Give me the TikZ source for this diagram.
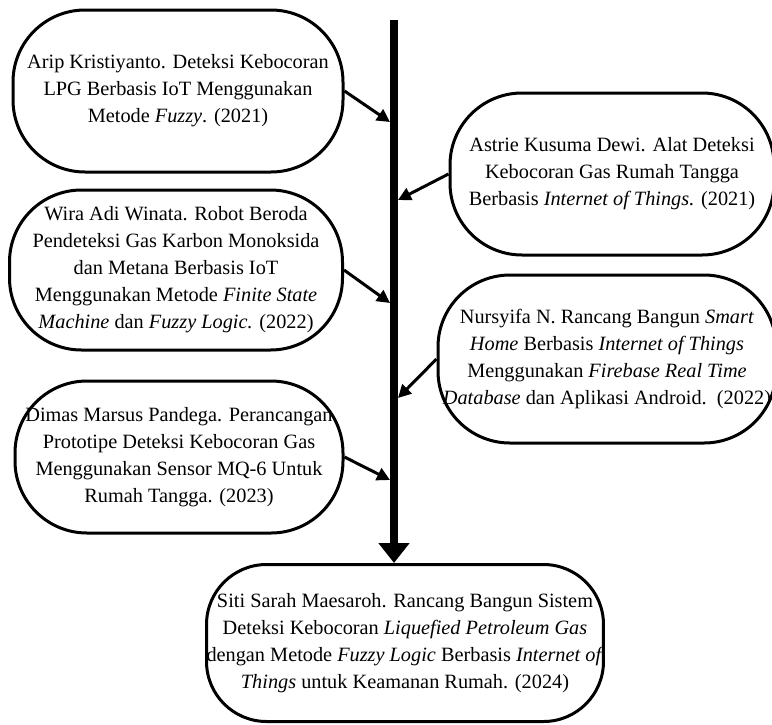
\documentclass[tikz,border=0pt]{standalone}
\usepackage{fontspec}
\setmainfont{Liberation Serif}
\usetikzlibrary{arrows.meta,positioning,calc}

\begin{document}
\begin{tikzpicture}[
    x=0.5pt, y=-0.5pt,
    box/.style={draw, line width=1.5pt, rounded corners=36pt, inner sep=0pt, align=center, font=\fontsize{10.15pt}{13.5pt}\selectfont},
    arrow/.style={-{Triangle[length=6.5pt,width=6.5pt]}, line width=1.5pt},
    spine/.style={-{Triangle[length=10pt,width=15pt]}, line width=4pt}
]
    \useasboundingbox (0,0) rectangle (772,724);

    % Left column (top)
    \node[box, minimum width=165pt, minimum height=81pt] (arip) at (178,91) {Arip Kristiyanto. Deteksi Kebocoran\\LPG Berbasis IoT Menggunakan\\Metode \textit{Fuzzy}. (2021)};

    % Right column (top)
    \node[box, minimum width=162pt, minimum height=81pt] (astrie) at (612,174) {Astrie Kusuma Dewi. Alat Deteksi\\Kebocoran Gas Rumah Tangga\\Berbasis \textit{Internet of Things.} (2021)};

    % Left column (middle)
    \node[box, minimum width=166.5pt, minimum height=80pt] (wira) at (176,270) {Wira Adi Winata. Robot Beroda\\Pendeteksi Gas Karbon Monoksida\\dan Metana Berbasis IoT\\Menggunakan Metode \textit{Finite State}\\\textit{Machine} dan \textit{Fuzzy Logic.} (2022)};

    % Right column (bottom)
    \node[box, minimum width=169pt, minimum height=84pt] (nursyifa) at (607,359) {Nursyifa N. Rancang Bangun \textit{Smart}\\\textit{Home} Berbasis \textit{Internet of Things}\\Menggunakan \textit{Firebase Real Time}\\\textit{Database} dan Aplikasi Android.\ \ (2022)};

    % Left column (bottom)
    \node[box, minimum width=164pt, minimum height=76pt] (dimas) at (179,457) {Dimas Marsus Pandega. Perancangan\\Prototipe Deteksi Kebocoran Gas\\Menggunakan Sensor MQ-6 Untuk\\Rumah Tangga. (2023)};

    % Result (bottom)
    \node[box, minimum width=193pt, minimum height=78.5pt, rounded corners=30pt] (siti) at (405,643) {Siti Sarah Maesaroh. Rancang Bangun Sistem\\Deteksi Kebocoran \textit{Liquefied Petroleum Gas}\\dengan Metode \textit{Fuzzy Logic} Berbasis \textit{Internet of}\\\textit{Things} untuk Keamanan Rumah. (2024)};

    % Time line
    \coordinate (top) at (394,20);
    \draw[spine] (top) -- (top |- siti.north);

    % Junctions on the time line
    \coordinate (j1) at (390,122);
    \coordinate (j2) at (398,200);
    \coordinate (j3) at (390,303);
    \coordinate (j4) at (398,398);
    \coordinate (j5) at (390,480);

    % Arrows
    \draw[arrow] (arip.east) -- (j1);
    \draw[arrow] (astrie.west) -- (j2);
    \draw[arrow] (wira.east) -- (j3);
    \draw[arrow] (nursyifa.west) -- (j4);
    \draw[arrow] (dimas.east) -- (j5);
\end{tikzpicture}
\end{document}
